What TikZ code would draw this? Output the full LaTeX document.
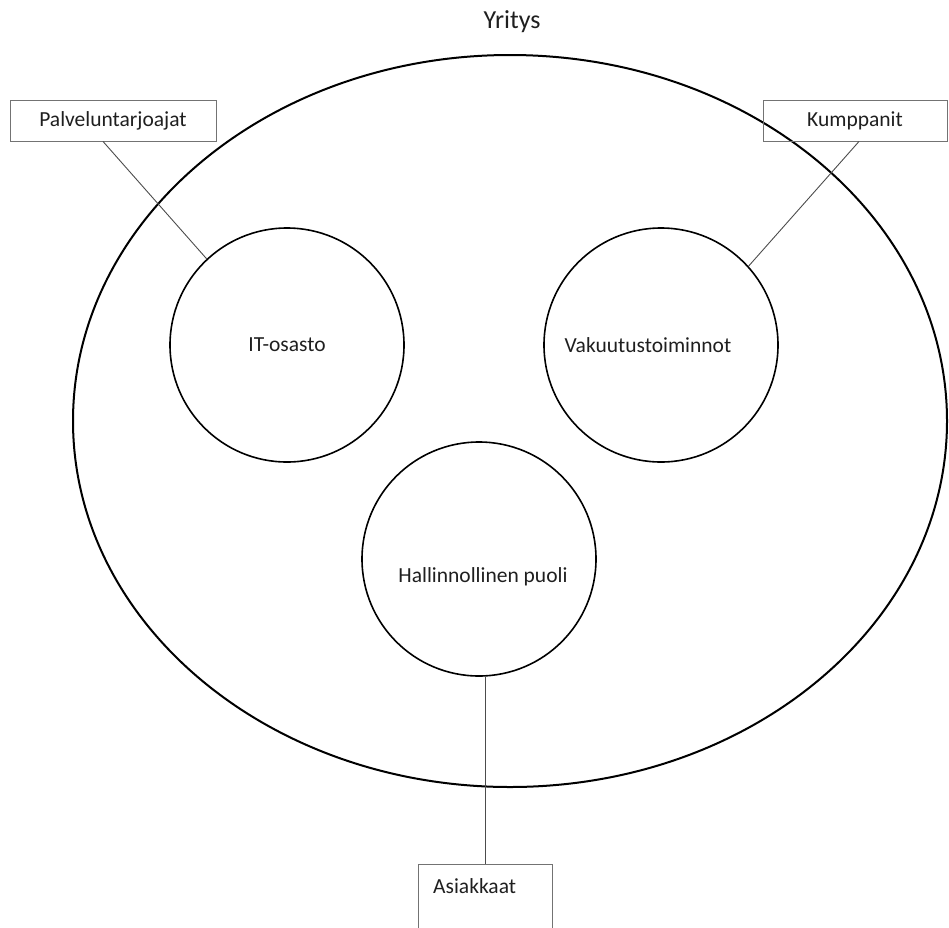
\documentclass[tikz,border=0pt]{standalone}
\usepackage{fontspec}
\setmainfont{Carlito}
\usetikzlibrary{shapes.geometric}
\begin{document}
\begin{tikzpicture}[x=1pt,y=-1pt,
  txt/.style={font=\fontsize{21.5}{24}\selectfont,text=black!88},
  unit/.style={circle,draw=black,line width=1.6pt,minimum size=234pt,inner sep=0pt,txt},
  tag/.style={rectangle,draw=black!55,line width=0.9pt,inner sep=0pt,txt},
  link/.style={draw=black!70,line width=0.9pt}]
\useasboundingbox (0,0) rectangle (949,927);
\clip (0,0) rectangle (949,927);
\node[font=\fontsize{26}{30}\selectfont,text=black!88] (title) at (512,22) {Yritys};
\node[ellipse,draw=black,line width=2pt,minimum width=874pt,minimum height=732pt,inner sep=0pt] (firm) at (510,421) {};
\node[unit] (it) at (287,345) {IT-osasto};
\node[unit,label={[txt,xshift=-13pt]center:Vakuutustoiminnot}] (vak) at (661,345) {};
\node[unit,label={[txt,xshift=4pt,yshift=-18pt]center:Hallinnollinen puoli}] (hal) at (479,559) {};
\node[tag,minimum width=206pt,minimum height=41pt] (pal) at (113,120.5) {Palveluntarjoajat};
\node[tag,minimum width=184pt,minimum height=41pt] (kum) at (855,120.5) {Kumppanit};
\node[tag,minimum width=134pt,minimum height=80pt] (asi) at (485,904) {};
\node[anchor=west,txt,inner sep=0pt] (asitext) at (433,886) {Asiakkaat};
\draw[link] ([xshift=-10pt]pal.south) -- (it.133);
\draw[link] ([xshift=4pt]kum.south) -- (vak.42);
\draw[link] (hal.273) -- (hal.273 |- asi.north);
\end{tikzpicture}
\end{document}
